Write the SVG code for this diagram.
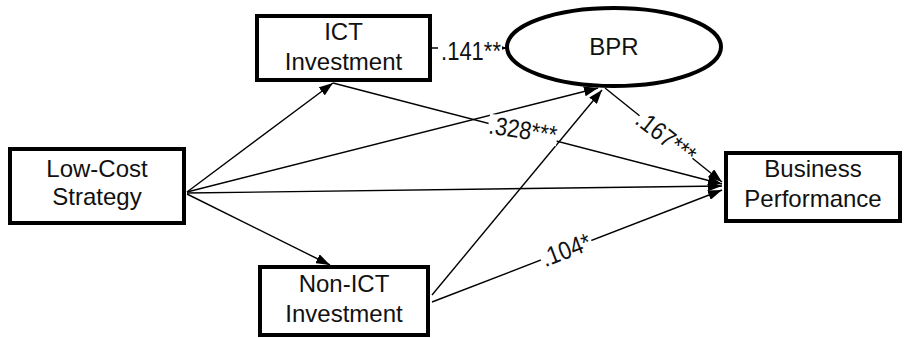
<svg xmlns="http://www.w3.org/2000/svg" width="905" height="338" viewBox="0 0 905 338">
<defs>
<style>
.box{fill:#fff;stroke:#000;stroke-width:4}
.t{font-family:"Liberation Sans",Arial,sans-serif;font-size:24px;fill:#111;text-anchor:middle}
.c{stroke:#000;stroke-width:1.4;fill:none;marker-end:url(#ah)}
.lb{font-family:"Liberation Sans",Arial,sans-serif;font-size:22px;fill:#111;text-anchor:middle}
.bg{fill:#fff}
</style>
<marker id="ah" viewBox="0 0 14 10" refX="14" refY="5" markerWidth="14" markerHeight="10" markerUnits="userSpaceOnUse" orient="auto">
<path d="M0,0 L14,5 L0,10 Z" fill="#000"/>
</marker>
</defs>
<rect width="905" height="338" fill="#fff"/>
<g id="connectors">
<line class="c" x1="187" y1="192" x2="333" y2="83"/>
<line class="c" x1="187" y1="192" x2="598" y2="88"/>
<line class="c" x1="187" y1="193" x2="722" y2="186"/>
<line class="c" x1="187" y1="194" x2="330" y2="265"/>
<line class="c" x1="432" y1="48" x2="507" y2="48"/>
<line class="c" x1="333" y1="83" x2="722" y2="184"/>
<line class="c" x1="605" y1="88" x2="722" y2="182"/>
<line class="c" x1="432" y1="295" x2="602" y2="90"/>
<line class="c" x1="432" y1="302" x2="722" y2="190"/>
<g transform="translate(471 51)"><rect class="bg" x="-33" y="-11" width="64" height="22"/><text class="lb" x="0" y="7.5" transform="scale(1 1.15)">.141**</text></g>
<g transform="translate(523 130) rotate(9)"><rect class="bg" x="-35" y="-11" width="70" height="22"/><text class="lb" x="0" y="7.5" transform="scale(1 1.15)">.328***</text></g>
<g transform="translate(666 137) rotate(38)"><rect class="bg" x="-34" y="-11" width="68" height="22"/><text class="lb" x="0" y="7.5" transform="scale(1 1.15)">.167***</text></g>
<g transform="translate(566 250) rotate(-21)"><rect class="bg" x="-27" y="-11" width="54" height="22"/><text class="lb" x="0" y="7.5" transform="scale(1 1.15)">.104*</text></g>
</g>
<g id="ict">
<rect class="box" x="257" y="16" width="173" height="64"/>
<text class="t" x="343.5" y="40">ICT</text>
<text class="t" x="343.5" y="70">Investment</text>
</g>
<g id="bpr">
<ellipse cx="614" cy="47" rx="107" ry="39" fill="#fff" stroke="#000" stroke-width="4"/>
<text class="t" x="614" y="55">BPR</text>
</g>
<g id="lowcost">
<rect class="box" x="10" y="149" width="174" height="74"/>
<text class="t" x="97" y="177">Low-Cost</text>
<text class="t" x="97" y="205">Strategy</text>
</g>
<g id="business">
<rect class="box" x="726" y="153" width="174" height="68"/>
<text class="t" x="813" y="177">Business</text>
<text class="t" x="813" y="207">Performance</text>
</g>
<g id="nonict">
<rect class="box" x="260" y="267" width="168" height="68"/>
<text class="t" x="344" y="292">Non-ICT</text>
<text class="t" x="344" y="322">Investment</text>
</g>
</svg>
